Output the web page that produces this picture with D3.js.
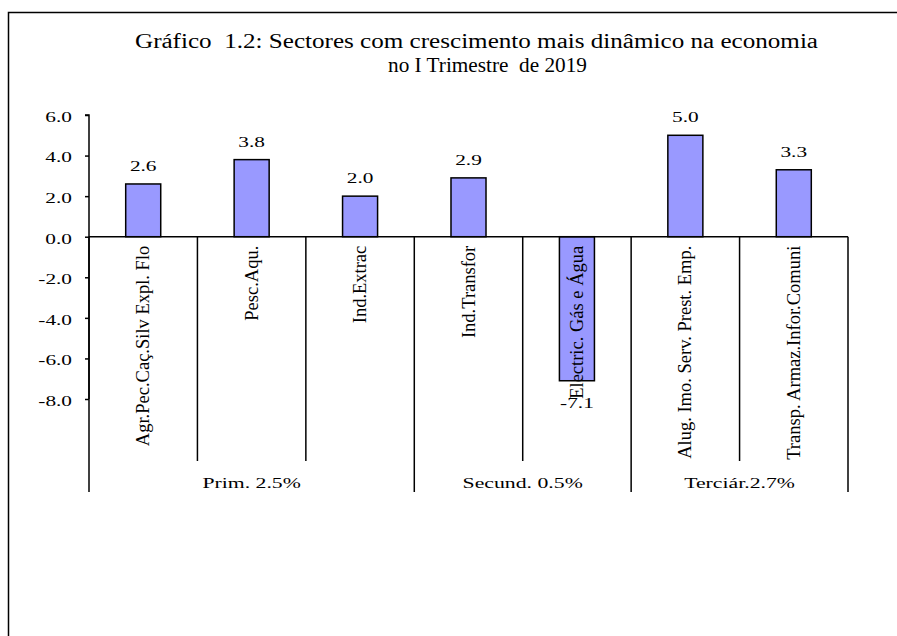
<!DOCTYPE html>
<html>
<head>
<meta charset="utf-8">
<script src="https://cdn.jsdelivr.net/npm/d3@7"></script>
<style>
    body { margin: 0; background: #fff; }
</style>
</head>
<body>
<div class="chart"></div>
<script>

// ===============================
// Data
// ===============================

const categories = [
    "Agr.Pec.Caç.Silv Expl. Flo",
    "Pesc.Aqu.",
    "Ind.Extrac",
    "Ind.Transfor",
    "Electric. Gás e Água",
    "Alug. Imo. Serv. Prest. Emp.",
    "Transp. Armaz.Infor.Comuni"
];

const values = [2.6, 3.8, 2.0, 2.9, -7.1, 5.0, 3.3];

const groupLabels = ["Prim. 2.5%", "Secund. 0.5%", "Terciár.2.7%"];
const groupSizes = [3, 2, 2];

const yTicks = [6, 4, 2, 0, -2, -4, -6, -8];

const titleLines = [
    "Gráfico  1.2: Sectores com crescimento mais dinâmico na economia",
    "no I Trimestre  de 2019"
];

const data = categories.map((c, i) => ({ category: c, value: values[i] }));

const fmt = d => d.toFixed(1);   // plain hyphen for negatives, like the source

// ===============================
// Chart
// ===============================

const width = 897;
const height = 636;
const serif = "Liberation Serif";

const plot = { left: 89, right: 848, top: 115, bottom: 399 };

const svg = d3.select(".chart")
    .append("svg")
    .attr("width", width)
    .attr("height", height)
    .attr("font-family", serif);

// the source text is drawn wide, so stretch glyphs horizontally
const stretch = (sel, k) => sel.each(function () {
    const w = this.getComputedTextLength();
    d3.select(this)
        .attr("textLength", w * k)
        .attr("lengthAdjust", "spacingAndGlyphs");
});

// outer frame (runs off the right/bottom edge like the source)
svg.append("rect")
    .attr("x", 8.5)
    .attr("y", 12.5)
    .attr("width", 1000)
    .attr("height", 1000)
    .attr("fill", "none")
    .attr("stroke", "#000")
    .attr("stroke-width", 1.5);

// =========================
// Title
// =========================

const titlePos = [
    { x: 135, y: 48, len: 683 },
    { x: 388, y: 72, len: 199 }
];

svg.append("g")
    .selectAll("text")
    .data(titleLines)
    .join("text")
    .attr("x", (d, i) => titlePos[i].x)
    .attr("y", (d, i) => titlePos[i].y)
    .attr("textLength", (d, i) => titlePos[i].len)
    .attr("lengthAdjust", "spacingAndGlyphs")
    .attr("font-family", serif)
    .style("white-space", "pre")
    .style("font-size", "20px")
    .text(d => d);

// =========================
// Scales
// =========================

const x = d3.scaleBand()
    .domain(categories)
    .range([plot.left, plot.right])
    .padding(0);

const y = d3.scaleLinear()
    .domain([6, -8])
    .range([plot.top, plot.bottom]);

const barW = x.bandwidth() * 0.323;

// =========================
// Y axis
// =========================

const yAxis = svg.append("g")
    .attr("transform", `translate(${plot.left},0)`)
    .call(d3.axisLeft(y)
        .tickValues(yTicks)
        .tickSize(4)
        .tickPadding(13)
        .tickFormat(fmt));

yAxis.attr("font-family", serif).attr("font-size", 15);
yAxis.select(".domain")
    .attr("d", `M-4,${y(6)}H0V${y(-8)}`)
    .attr("stroke-width", 1.5);
yAxis.selectAll(".tick line").attr("stroke-width", 1.5);
yAxis.selectAll("text")
    .attr("font-family", serif)
    .attr("dy", "0.42em")
    .call(stretch, 1.42);

// =========================
// Bars
// =========================

svg.append("g")
    .selectAll("rect")
    .data(data)
    .join("rect")
    .attr("x", d => x(d.category) + (x.bandwidth() - barW) / 2)
    .attr("y", d => y(Math.max(0, d.value)))
    .attr("width", barW)
    .attr("height", d => Math.abs(y(d.value) - y(0)))
    .attr("fill", "#9999ff")
    .attr("stroke", "#000")
    .attr("stroke-width", 1.5);

// x axis line
svg.append("line")
    .attr("x1", plot.left)
    .attr("x2", plot.right)
    .attr("y1", y(0))
    .attr("y2", y(0))
    .attr("stroke", "#000")
    .attr("stroke-width", 1.5);

// category separators (short inside groups, long between groups)
const groupEdges = [0];
groupSizes.forEach(s => groupEdges.push(groupEdges[groupEdges.length - 1] + s));

const edgeX = i => i < categories.length ? x(categories[i]) : plot.right;

svg.append("g")
    .selectAll("line")
    .data(d3.range(categories.length + 1))
    .join("line")
    .attr("x1", edgeX)
    .attr("x2", edgeX)
    .attr("y1", y(0))
    .attr("y2", i => groupEdges.includes(i) ? 492 : 461)
    .attr("stroke", "#000")
    .attr("stroke-width", 1.5);

// =========================
// Labels
// =========================

// category labels, rotated
svg.append("g")
    .selectAll("text")
    .data(categories)
    .join("text")
    .attr("transform", d => `translate(${x(d) + x.bandwidth() / 2 + 6},${y(0) + 9}) rotate(-90)`)
    .attr("text-anchor", "end")
    .attr("font-family", serif)
    .style("font-size", "18.5px")
    .text(d => d);

// value labels
svg.append("g")
    .selectAll("text")
    .data(data)
    .join("text")
    .attr("x", d => x(d.category) + x.bandwidth() / 2)
    .attr("y", d => d.value >= 0 ? y(d.value) - 13 : y(d.value) + 27)
    .attr("text-anchor", "middle")
    .attr("font-family", serif)
    .style("font-size", "15px")
    .text(d => fmt(d.value))
    .call(stretch, 1.42);

// group labels
const groups = groupLabels.map((g, i) => ({
    label: g,
    cx: (edgeX(groupEdges[i]) + edgeX(groupEdges[i + 1])) / 2
}));

svg.append("g")
    .selectAll("text")
    .data(groups)
    .join("text")
    .attr("x", d => d.cx)
    .attr("y", 488)
    .attr("text-anchor", "middle")
    .attr("font-family", serif)
    .style("font-size", "15px")
    .text(d => d.label)
    .call(stretch, 1.45);

</script>
</body>
</html>
